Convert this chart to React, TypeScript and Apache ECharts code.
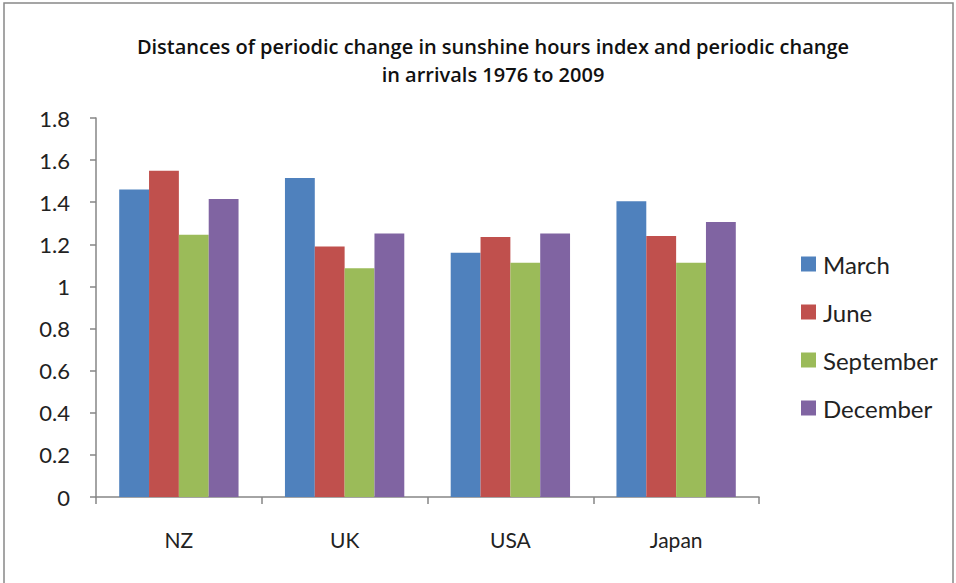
import React, { useEffect, useRef } from "react";
import * as echarts from "echarts";

const categories = ["NZ", "UK", "USA", "Japan"];
const seriesNames = ["March", "June", "September", "December"];
const march = [1.46, 1.515, 1.16, 1.405];
const june = [1.55, 1.19, 1.235, 1.24];
const september = [1.245, 1.087, 1.112, 1.112];
const december = [1.415, 1.251, 1.251, 1.306];
const colors = ["#4F81BD", "#C0504D", "#9BBB59", "#8064A2"];
const titleLines = [
  "Distances of periodic change in sunshine hours index and periodic change",
  "in arrivals 1976 to 2009",
];

export default function App() {
  const ref = useRef<HTMLDivElement>(null);
  useEffect(() => {
    if (!ref.current) return;
    const chart = echarts.init(ref.current, null, { renderer: "svg" });
    const values = [march, june, september, december];
    const font = "Lato, 'Open Sans', sans-serif";
    chart.setOption({
      animation: false,
      color: colors,
      title: {
        text: titleLines.join("\n"),
        left: 488,
        textAlign: "center",
        top: 27,
        textStyle: {
          fontFamily: "'Open Sans', Lato, sans-serif",
          fontSize: 20,
          fontWeight: 600,
          color: "#111",
          lineHeight: 28,
        },
      },
      legend: {
        orient: "vertical",
        left: 796,
        top: 247,
        itemWidth: 15,
        itemHeight: 15,
        itemGap: 24,
        icon: "rect",
        textStyle: { fontFamily: font, fontSize: 24, color: "#222", padding: [0, 0, 0, 2] },
        data: seriesNames,
      },
      grid: { left: 96, right: 197, top: 118, bottom: 86 },
      xAxis: {
        type: "category",
        data: categories,
        axisLine: { lineStyle: { color: "#868686", width: 1.5 } },
        axisTick: { show: true, length: 7, lineStyle: { color: "#868686", width: 1.5 } },
        axisLabel: { fontFamily: font, fontSize: 21, color: "#222", margin: 32 },
      },
      yAxis: {
        type: "value",
        min: 0,
        max: 1.8,
        interval: 0.2,
        splitLine: { show: false },
        axisLine: { show: true, lineStyle: { color: "#868686", width: 1.5 } },
        axisTick: { show: true, length: 6, lineStyle: { color: "#868686", width: 1.5 } },
        axisLabel: {
          fontFamily: font,
          fontSize: 22,
          color: "#222",
          margin: 26,
          formatter: (v: number) => String(Math.round(v * 10) / 10),
        },
      },
      series: seriesNames.map((name, i) => ({
        name,
        type: "bar",
        data: values[i],
        barGap: "0%",
        barCategoryGap: "28%",
        itemStyle: { color: colors[i] },
      })),
      graphic: [
        {
          type: "rect",
          shape: { x: 4, y: 3, width: 949, height: 590 },
          style: { fill: "none", stroke: "#888", lineWidth: 1.5 },
          silent: true,
        },
      ],
    });
    return () => chart.dispose();
  }, []);
  return (
    <div
      ref={ref}
      style={{ width: 956, height: 583, position: "absolute", left: 0, top: 0, background: "#fff" }}
    />
  );
}
